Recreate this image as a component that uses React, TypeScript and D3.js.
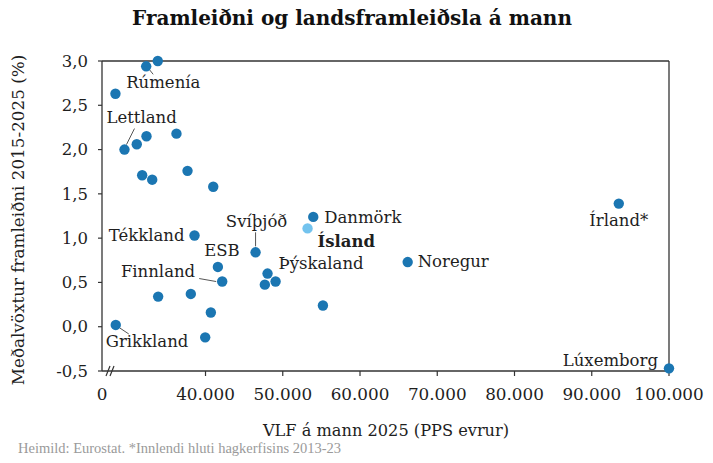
import * as d3 from 'd3'

// Landsframleiðsla á mann (PPS evrur) og meðalvöxtur framleiðni 2015-2025 (%)
const countries = [
  'Rúmenía', '', '', 'Lettland', '', '', '', '', '', '', '',
  'Tékkland', 'Svíþjóð', 'Danmörk', 'Ísland', 'ESB', 'Finnland', 'Þýskaland',
  '', '', '', '', '', '', '', 'Grikkland', 'Noregur', 'Írland*', 'Lúxemborg',
]
const gdpPerCapita = [
  32320, 33820, 28340, 29510, 31100, 32360, 36240, 31800, 33100, 37670, 41000,
  38575, 46480, 53950, 53210, 41600, 42160, 48030,
  47680, 49070, 55200, 33870, 38100, 40690, 39960, 28380, 66170, 93500, 100000,
]
const productivityGrowth = [
  2.94, 3.0, 2.63, 2.0, 2.06, 2.15, 2.18, 1.71, 1.66, 1.76, 1.58,
  1.03, 0.84, 1.24, 1.11, 0.675, 0.51, 0.6,
  0.475, 0.51, 0.24, 0.34, 0.37, 0.16, -0.12, 0.02, 0.73, 1.39, -0.47,
]

const xTicks = [40000, 50000, 60000, 70000, 80000, 90000, 100000]
const yTicks = [-0.5, 0, 0.5, 1, 1.5, 2, 2.5, 3]
const highlight = 'Ísland'

// label placement relative to the dot (px)
const labelLayout: Record<string, { dx: number; dy: number; anchor: string; leader?: [number, number, number, number] }> = {
  'Rúmenía': { dx: -20, dy: 22, anchor: 'start', leader: [3, 3, 7, 8] },
  'Lettland': { dx: -18, dy: -27, anchor: 'start', leader: [2, -5, 10, -21] },
  'Tékkland': { dx: -10, dy: 6, anchor: 'end' },
  'Svíþjóð': { dx: 1, dy: -25, anchor: 'middle', leader: [0, -6, 0, -20] },
  'ESB': { dx: 4, dy: -11, anchor: 'middle' },
  'Finnland': { dx: -27, dy: -5, anchor: 'end', leader: [-6, 0, -23, -3] },
  'Danmörk': { dx: 11, dy: 6, anchor: 'start' },
  'Ísland': { dx: 10, dy: 19, anchor: 'start' },
  'Þýskaland': { dx: 11, dy: -5, anchor: 'start' },
  'Noregur': { dx: 10, dy: 5, anchor: 'start' },
  'Írland*': { dx: 0, dy: 22, anchor: 'middle' },
  'Grikkland': { dx: -10, dy: 22, anchor: 'start', leader: [4, 3, 13, 9] },
  'Lúxemborg': { dx: -11, dy: -2, anchor: 'end' },
}

const width = 713
const height = 463
const margin = { top: 61, right: 44, bottom: 92, left: 102 }
const serif = '"DejaVu Serif", Georgia, serif'
const dotColor = '#1b76b2'
const iceColor = '#73c3ee'
const axisColor = '#333'
const textColor = '#1e1e1e'

export default function App() {
  const x = d3
    .scaleLinear()
    .domain([26600, 100000])
    .range([margin.left, width - margin.right])
  const y = d3
    .scaleLinear()
    .domain([-0.5, 3])
    .range([height - margin.bottom, margin.top])

  const x0 = x.range()[0]
  const x1 = x.range()[1]
  const y0 = y.range()[0]
  const y1 = y.range()[1]

  const fmt = (v: number) => d3.format(',')(v).replace(/,/g, '.')
  const fmtY = (v: number) => d3.format('.1f')(v).replace('.', ',').replace('−', '-')

  const points = countries.map((name, i) => ({
    name,
    cx: x(gdpPerCapita[i]),
    cy: y(productivityGrowth[i]),
  }))

  return (
    <svg
      width={width}
      height={height}
      style={{ position: 'absolute', left: 0, top: 0, background: '#fff' }}
      fontFamily={serif}
    >
      <text x={352} y={25} textAnchor="middle" fontSize={20} fontWeight="bold" fill="#111">
        Framleiðni og landsframleiðsla á mann
      </text>

      {/* frame */}
      <line x1={x0} x2={x1} y1={y1} y2={y1} stroke={axisColor} strokeWidth={1.3} />
      <line x1={x1} x2={x1} y1={y1} y2={y0} stroke={axisColor} strokeWidth={1.3} />
      <line x1={x0} x2={x0} y1={y1} y2={y0} stroke={axisColor} strokeWidth={1.3} />
      <line x1={x0} x2={x1} y1={y0} y2={y0} stroke={axisColor} strokeWidth={1.3} />

      {/* axis break */}
      <line x1={x0 + 4} x2={x0 + 8} y1={y0 + 5} y2={y0 - 5} stroke={axisColor} strokeWidth={1.2} />
      <line x1={x0 + 8} x2={x0 + 12} y1={y0 + 5} y2={y0 - 5} stroke={axisColor} strokeWidth={1.2} />

      {/* y ticks */}
      {yTicks.map(t => (
        <g key={t}>
          <line x1={x0 - 4} x2={x0} y1={y(t)} y2={y(t)} stroke={axisColor} strokeWidth={1.2} />
          <text x={88} y={y(t)} dy="0.35em" textAnchor="end" fontSize={16.5} fill={textColor}>
            {fmtY(t)}
          </text>
        </g>
      ))}

      {/* x ticks */}
      {xTicks.map(t => (
        <g key={t}>
          <line x1={x(t)} x2={x(t)} y1={y0} y2={y0 + 5} stroke={axisColor} strokeWidth={1.2} />
          <text x={x(t)} y={y0 + 29} textAnchor="middle" fontSize={16.8} fill={textColor}>
            {fmt(t)}
          </text>
        </g>
      ))}
      <text x={x0} y={y0 + 29} textAnchor="middle" fontSize={16.8} fill={textColor}>
        0
      </text>

      {/* axis titles */}
      <text
        transform={`translate(24,${(y0 + y1) / 2 + 4}) rotate(-90)`}
        textAnchor="middle"
        fontSize={16.8}
        fill={textColor}
      >
        Meðalvöxtur framleiðni 2015-2025 (%)
      </text>
      <text x={386} y={436} textAnchor="middle" fontSize={16.2} fill={textColor}>
        VLF á mann 2025 (PPS evrur)
      </text>

      {/* leaders */}
      {points.map(p => {
        const l = labelLayout[p.name]
        if (!l || !l.leader) return null
        const [ax, ay, bx, by] = l.leader
        return (
          <line
            key={`leader-${p.name}`}
            x1={p.cx + ax}
            y1={p.cy + ay}
            x2={p.cx + bx}
            y2={p.cy + by}
            stroke="#555"
            strokeWidth={1}
          />
        )
      })}

      {/* dots */}
      {points.map((p, i) => (
        <circle
          key={i}
          cx={p.cx}
          cy={p.cy}
          r={5.2}
          fill={p.name === highlight ? iceColor : dotColor}
        />
      ))}

      {/* labels */}
      {points.map(p => {
        const l = labelLayout[p.name]
        if (!l) return null
        return (
          <text
            key={`label-${p.name}`}
            x={p.cx + l.dx}
            y={p.cy + l.dy}
            textAnchor={l.anchor}
            fontSize={16.5}
            fontWeight={p.name === highlight ? 'bold' : 'normal'}
            fill={textColor}
          >
            {p.name}
          </text>
        )
      })}

      <text x={18} y={453} fontSize={14.5} fill="#9a9a9a" fontFamily='"Liberation Serif", serif'>
        Heimild: Eurostat. *Innlendi hluti hagkerfisins 2013-23
      </text>
    </svg>
  )
}
